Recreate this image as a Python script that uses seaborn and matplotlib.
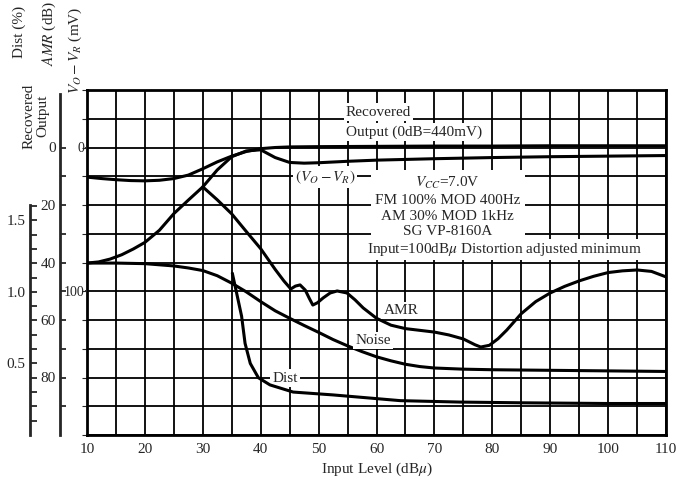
import numpy as np
import matplotlib
matplotlib.use("Agg")
import matplotlib.pyplot as plt
from matplotlib.ticker import MultipleLocator, FixedLocator, FormatStrFormatter
import seaborn as sns

sns.set_style("white")
plt.rcParams['font.family'] = ['Liberation Serif', 'DejaVu Serif']
plt.rcParams['mathtext.fontset'] = 'stix'

# values
rec_x = [10, 12.5, 15, 17.5, 20, 22.5, 25, 27.5, 30, 32.5, 35, 37.5, 40, 42.5, 45, 50, 60, 70, 80, 90, 100, 110]
rec_db = [-10.3, -10.8, -11.2, -11.5, -11.6, -11.4, -10.8, -9.6, -7.4, -5.0, -3.0, -1.4, -0.4, 0.0, 0.2, 0.3, 0.4, 0.5, 0.5, 0.6, 0.6, 0.6]

vr_x = [10, 12, 14, 16, 18, 20, 22.5, 25, 27.5, 30, 32.5, 35, 37.5, 40, 42.5, 45, 47.5, 50, 55, 60, 70, 80, 90, 100, 110]
vr_mv = [80.4, 79.6, 77.6, 74.6, 70.6, 66.0, 57.6, 46.0, 36.6, 27.4, 15.6, 6.4, 2.4, 1.6, 7.0, 10.4, 10.9, 10.6, 9.6, 8.8, 7.8, 7.0, 6.4, 6.0, 5.6]

amr_x = [30, 32.5, 35, 37.5, 40, 42.5, 44, 45.2, 46, 46.8, 47.7, 48.4, 49, 49.8, 50.8,
         52, 53.2, 54.9, 56.3, 57.7, 60, 62.5, 65, 67.5, 70, 72.5, 75, 77, 78, 79.5,
         81, 82.5, 85, 87.5, 90, 92.5, 95, 97.5, 100, 102.5, 105, 107.5, 110]
amr_db = [13.7, 18.2, 23.1, 29.2, 35.2, 42.4, 46.4, 49.2, 48.2, 47.8, 49.6, 52.5, 54.8, 54.0, 52.3,
          50.6, 49.9, 50.6, 53.0, 55.8, 59.4, 61.8, 63.0, 63.6, 64.2, 65.2, 66.6, 68.6, 69.4, 68.8,
          66.5, 63.5, 57.8, 53.6, 50.6, 48.3, 46.4, 44.8, 43.5, 42.9, 42.6, 43.1, 45.0]

noise_x = [10, 15, 20, 25, 27.5, 30, 32.5, 35, 37.5, 40, 42.5, 45, 47.5, 50, 52.5, 55, 57.5,
           60, 62.5, 65, 67.5, 70, 75, 80, 90, 100, 110]
noise_db = [40.2, 40.2, 40.4, 41.2, 41.9, 42.8, 44.6, 47.2, 50.2, 53.6, 56.8, 59.4, 61.9, 64.3, 66.8, 69.0, 71.0,
            72.8, 74.2, 75.4, 76.2, 76.7, 77.1, 77.3, 77.5, 77.7, 77.9]

dist_x = [35.1, 35.85, 36.7, 37.3, 38.2, 39.6, 41.6, 45.6, 52.5, 58.3, 64.1, 74.4, 85, 100, 110]
dist_pct = [1.13, 0.99, 0.83, 0.64, 0.50, 0.40, 0.35, 0.30, 0.28, 0.26, 0.24, 0.23, 0.225, 0.22, 0.22]

x_ticks = [10, 20, 30, 40, 50, 60, 70, 80, 90, 100, 110]
amr_ticks = [0, 20, 40, 60, 80]
vr_ticks = [0, 100]
dist_ticks = [0.5, 1.0, 1.5]

W, H = 678, 480
fig = plt.figure(figsize=(W / 100, H / 100), dpi=100)
ax = fig.add_axes([87 / W, 1 - 435 / H, (666 - 87) / W, (435 - 90) / H])

LW = 2.2
FS = 11

# main grid axis (AMR / Noise in dB)
sns.lineplot(x=amr_x, y=amr_db, ax=ax, color='black', linewidth=LW)
sns.lineplot(x=noise_x, y=noise_db, ax=ax, color='black', linewidth=LW)
ax.set_ylim(100, -20)
ax.xaxis.set_major_locator(FixedLocator(x_ticks))
ax.xaxis.set_minor_locator(MultipleLocator(5))
ax.yaxis.set_major_locator(MultipleLocator(10))
ax.set_axisbelow(True)
ax.grid(which='both', color='black', linewidth=1.3)
ax.tick_params(axis='y', left=False, labelleft=False)
ax.tick_params(axis='x', which='both', length=0, pad=6, labelsize=FS)
for s in ax.spines.values():
    s.set_visible(True)
    s.set_color('black')
    s.set_linewidth(2)
ax.set_xlabel(r'Input Level (dB$\mu$)', fontsize=FS, labelpad=3)
ax.set_ylabel('')

def bare(a):
    for s in a.spines.values():
        s.set_visible(False)
    a.patch.set_visible(False)
    a.yaxis.tick_left()
    a.set_ylabel('')

# AMR / recovered output scale axis
ax_s = ax.twinx()
bare(ax_s)
ax_s.set_ylim(100, -20)
ax_s.spines['left'].set_visible(True)
ax_s.spines['left'].set_linewidth(2)
ax_s.spines['left'].set_position(('outward', 27 * 0.72))
ax_s.spines['left'].set_bounds(-18.5, 100)
ax_s.yaxis.set_major_locator(FixedLocator(amr_ticks))
ax_s.yaxis.set_minor_locator(FixedLocator([10, 30, 50, 70, 90]))
ax_s.tick_params(axis='y', which='both', direction='in', length=4, width=1.3, labelsize=FS, pad=3)

# V_O - V_R scale (mV)
ax_v = ax.twinx()
bare(ax_v)
sns.lineplot(x=vr_x, y=vr_mv, ax=ax_v, color='black', linewidth=LW)
ax_v.set_ylim(200, -40)
ax_v.set_ylabel('')
ax_v.yaxis.set_major_locator(FixedLocator(vr_ticks))
ax_v.tick_params(axis='y', direction='out', length=1.5, width=1.3, labelsize=10, pad=0.5)

# Dist scale (%)
ax_d = ax.twinx()
bare(ax_d)
sns.lineplot(x=dist_x, y=dist_pct, ax=ax_d, color='black', linewidth=LW)
ax_d.set_ylim(0, 2.41)
ax_d.set_ylabel('')
ax_d.spines['left'].set_visible(True)
ax_d.spines['left'].set_linewidth(2)
ax_d.spines['left'].set_position(('outward', 57 * 0.72))
ax_d.spines['left'].set_bounds(0, 1.61)
ax_d.yaxis.set_major_locator(FixedLocator(dist_ticks))
ax_d.yaxis.set_minor_locator(FixedLocator(np.round(np.arange(0.1, 1.65, 0.1), 2)))
ax_d.yaxis.set_major_formatter(FormatStrFormatter('%.1f'))
ax_d.tick_params(axis='y', which='both', direction='in', length=5, width=1.3, labelsize=FS, pad=3)

# recovered output (dB, 0 dB = 440 mV)
ax_r = ax.twinx()
bare(ax_r)
sns.lineplot(x=rec_x, y=rec_db, ax=ax_r, color='black', linewidth=LW)
ax_r.set_ylim(-100, 20)
ax_r.set_ylabel('')
ax_r.tick_params(axis='y', left=False, labelleft=False)

ax.set_xlim(10, 110)

box = dict(facecolor='white', edgecolor='none', pad=1.5)
kw = dict(fontsize=FS, zorder=2, bbox=box)
ax.text(54.7, -12.3, 'Recovered', ha='left', va='center', **kw)
ax.text(54.7, -5.4, 'Output (0dB=440mV)', ha='left', va='center', **kw)
ax.text(51.1, 10.2, r'$(V_O-V_R)$', ha='center', va='center', **kw)
ax.text(72.3, 20.6, 'Vcc=7.0V\nFM 100% MOD 400Hz\nAM 30% MOD 1kHz\nSG VP-8160A'.replace('Vcc', r'$V_{CC}$'),
        ha='center', va='center', multialignment='center', linespacing=1.28,
        fontsize=FS, zorder=2, bbox=dict(facecolor='white', edgecolor='none', pad=3))
ax.text(58.4, 35.6, r'Input=100dB$\mu$ Distortion adjusted minimum', ha='left', va='center', **kw)
ax.text(64.2, 56.6, 'AMR', ha='center', va='center', **kw)
ax.text(59.4, 67.2, 'Noise', ha='center', va='center', **kw)
ax.text(44.2, 80.2, 'Dist', ha='center', va='center', **kw)

# rotated axis headings
fig.text(19 / W, 1 - 32 / H, 'Dist (%)', rotation=90, ha='center', va='center', fontsize=FS)
fig.text(36 / W, 1 - 116 / H, 'Recovered\nOutput', rotation=90, ha='center', va='center',
         multialignment='center', linespacing=1.0, fontsize=FS)
fig.text(49 / W, 1 - 33 / H, r'$AMR$ (dB)', rotation=90, ha='center', va='center', fontsize=FS)
fig.text(75 / W, 1 - 50 / H, r'$V_O-V_R$ (mV)', rotation=90, ha='center', va='center', fontsize=FS)

fig.savefig('out.png', dpi=100)
